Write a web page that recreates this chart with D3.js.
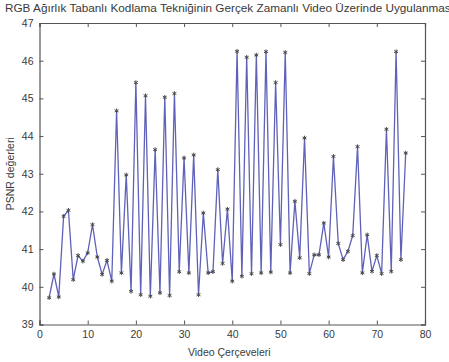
<!DOCTYPE html>
<html>
<head>
<meta charset="utf-8">
<script src="https://cdn.jsdelivr.net/npm/d3@7"></script>
<style>
  body { margin: 0; background: #fff; }
  text { font-family: "Liberation Sans", Arial, sans-serif; fill: #3a3a3a; }
</style>
</head>
<body>
<div id="chart-area"></div>
<script>
// chart data
const titleText = "RGB Ağırlık Tabanlı Kodlama Tekniğinin Gerçek Zamanlı Video Üzerinde Uygulanması";
const xLabelText = "Video Çerçeveleri";
const yLabelText = "PSNR değerleri";
const xTicks = [0, 10, 20, 30, 40, 50, 60, 70, 80];
const yTicks = [39, 40, 41, 42, 43, 44, 45, 46, 47];
const frames = d3.range(2, 77);
const psnr = [
  39.71, 40.34, 39.73, 41.87, 42.03, 40.19, 40.83, 40.68, 40.90, 41.65,
  40.79, 40.33, 40.70, 40.15, 44.67, 40.37, 42.97, 39.88, 45.42, 39.79,
  45.07, 39.75, 43.64, 39.84, 45.03, 39.77, 45.13, 40.40, 43.42, 40.37,
  43.50, 39.79, 41.96, 40.37, 40.40, 43.11, 40.62, 42.06, 40.15, 46.25,
  40.28, 46.09, 40.35, 46.15, 40.37, 46.24, 40.39, 45.42, 41.12, 46.22,
  40.37, 42.27, 40.77, 43.95, 40.35, 40.85, 40.85, 41.69, 40.79, 43.46,
  41.15, 40.72, 40.94, 41.36, 43.72, 40.37, 41.38, 40.41, 40.83, 40.35,
  44.18, 40.41, 46.24, 40.72, 43.55
];

const WIDTH = 449, HEIGHT = 362;
const MARGIN = { LEFT: 39.5, RIGHT: 24, TOP: 23, BOTTOM: 37.5 };
const W = WIDTH - MARGIN.LEFT - MARGIN.RIGHT;
const H = HEIGHT - MARGIN.TOP - MARGIN.BOTTOM;

const svg = d3.select("#chart-area")
  .append("svg")
    .attr("width", WIDTH)
    .attr("height", HEIGHT);

const g = svg.append("g")
  .attr("transform", `translate(${MARGIN.LEFT}, ${MARGIN.TOP})`);

// scales
const x = d3.scaleLinear().domain([0, 80]).range([0, W]);
const y = d3.scaleLinear().domain([39, 47]).range([H, 0]);

// title, clipped at right like the original
svg.append("text")
  .attr("x", 5)
  .attr("y", 12)
  .attr("font-size", "10px")
  .attr("fill", "#555")
  .attr("textLength", 449)
  .attr("lengthAdjust", "spacingAndGlyphs")
  .text(titleText);

// axes (matlab style: ticks inward, box all around)
const axisColor = "#555";
const xAxisBottom = g.append("g")
  .attr("transform", `translate(0, ${H})`)
  .call(d3.axisBottom(x).tickValues(xTicks).tickSize(-4).tickPadding(6));
const xAxisTop = g.append("g")
  .call(d3.axisTop(x).tickValues(xTicks).tickSize(-4).tickFormat(""));
const yAxisLeft = g.append("g")
  .call(d3.axisLeft(y).tickValues(yTicks).tickSize(-4).tickPadding(6));
const yAxisRight = g.append("g")
  .attr("transform", `translate(${W}, 0)`)
  .call(d3.axisRight(y).tickValues(yTicks).tickSize(-4).tickFormat(""));

[xAxisBottom, xAxisTop, yAxisLeft, yAxisRight].forEach(a => {
  a.select(".domain").attr("stroke", axisColor).attr("stroke-width", 1.2);
  a.selectAll(".tick line").attr("stroke", axisColor);
  a.selectAll("text")
    .attr("font-size", "10.5px")
    .attr("fill", "#3a3a3a")
    .attr("font-family", "Liberation Sans, Arial, sans-serif");
});

// axis labels
g.append("text")
  .attr("x", x(40) - 3)
  .attr("y", H + 31)
  .attr("font-size", "10.5px")
  .attr("text-anchor", "middle")
  .text(xLabelText);

g.append("text")
  .attr("transform", "rotate(-90)")
  .attr("x", -(H / 2))
  .attr("y", -26)
  .attr("font-size", "10.5px")
  .attr("text-anchor", "middle")
  .text(yLabelText);

// series
const pts = frames.map((f, i) => [f, psnr[i]]);

g.append("path")
  .datum(pts)
  .attr("fill", "none")
  .attr("stroke", "#5f62b8")
  .attr("stroke-width", 1.3)
  .attr("d", d3.line().x(d => x(d[0])).y(d => y(d[1])));

g.selectAll(".mark")
  .data(pts)
  .enter()
  .append("path")
    .attr("class", "mark")
    .attr("transform", d => `translate(${x(d[0])}, ${y(d[1])})`)
    .attr("d", d3.symbol(d3.symbolAsterisk, 14))
    .attr("fill", "none")
    .attr("stroke", "#4a4a4a")
    .attr("stroke-width", 1);
</script>
</body>
</html>
